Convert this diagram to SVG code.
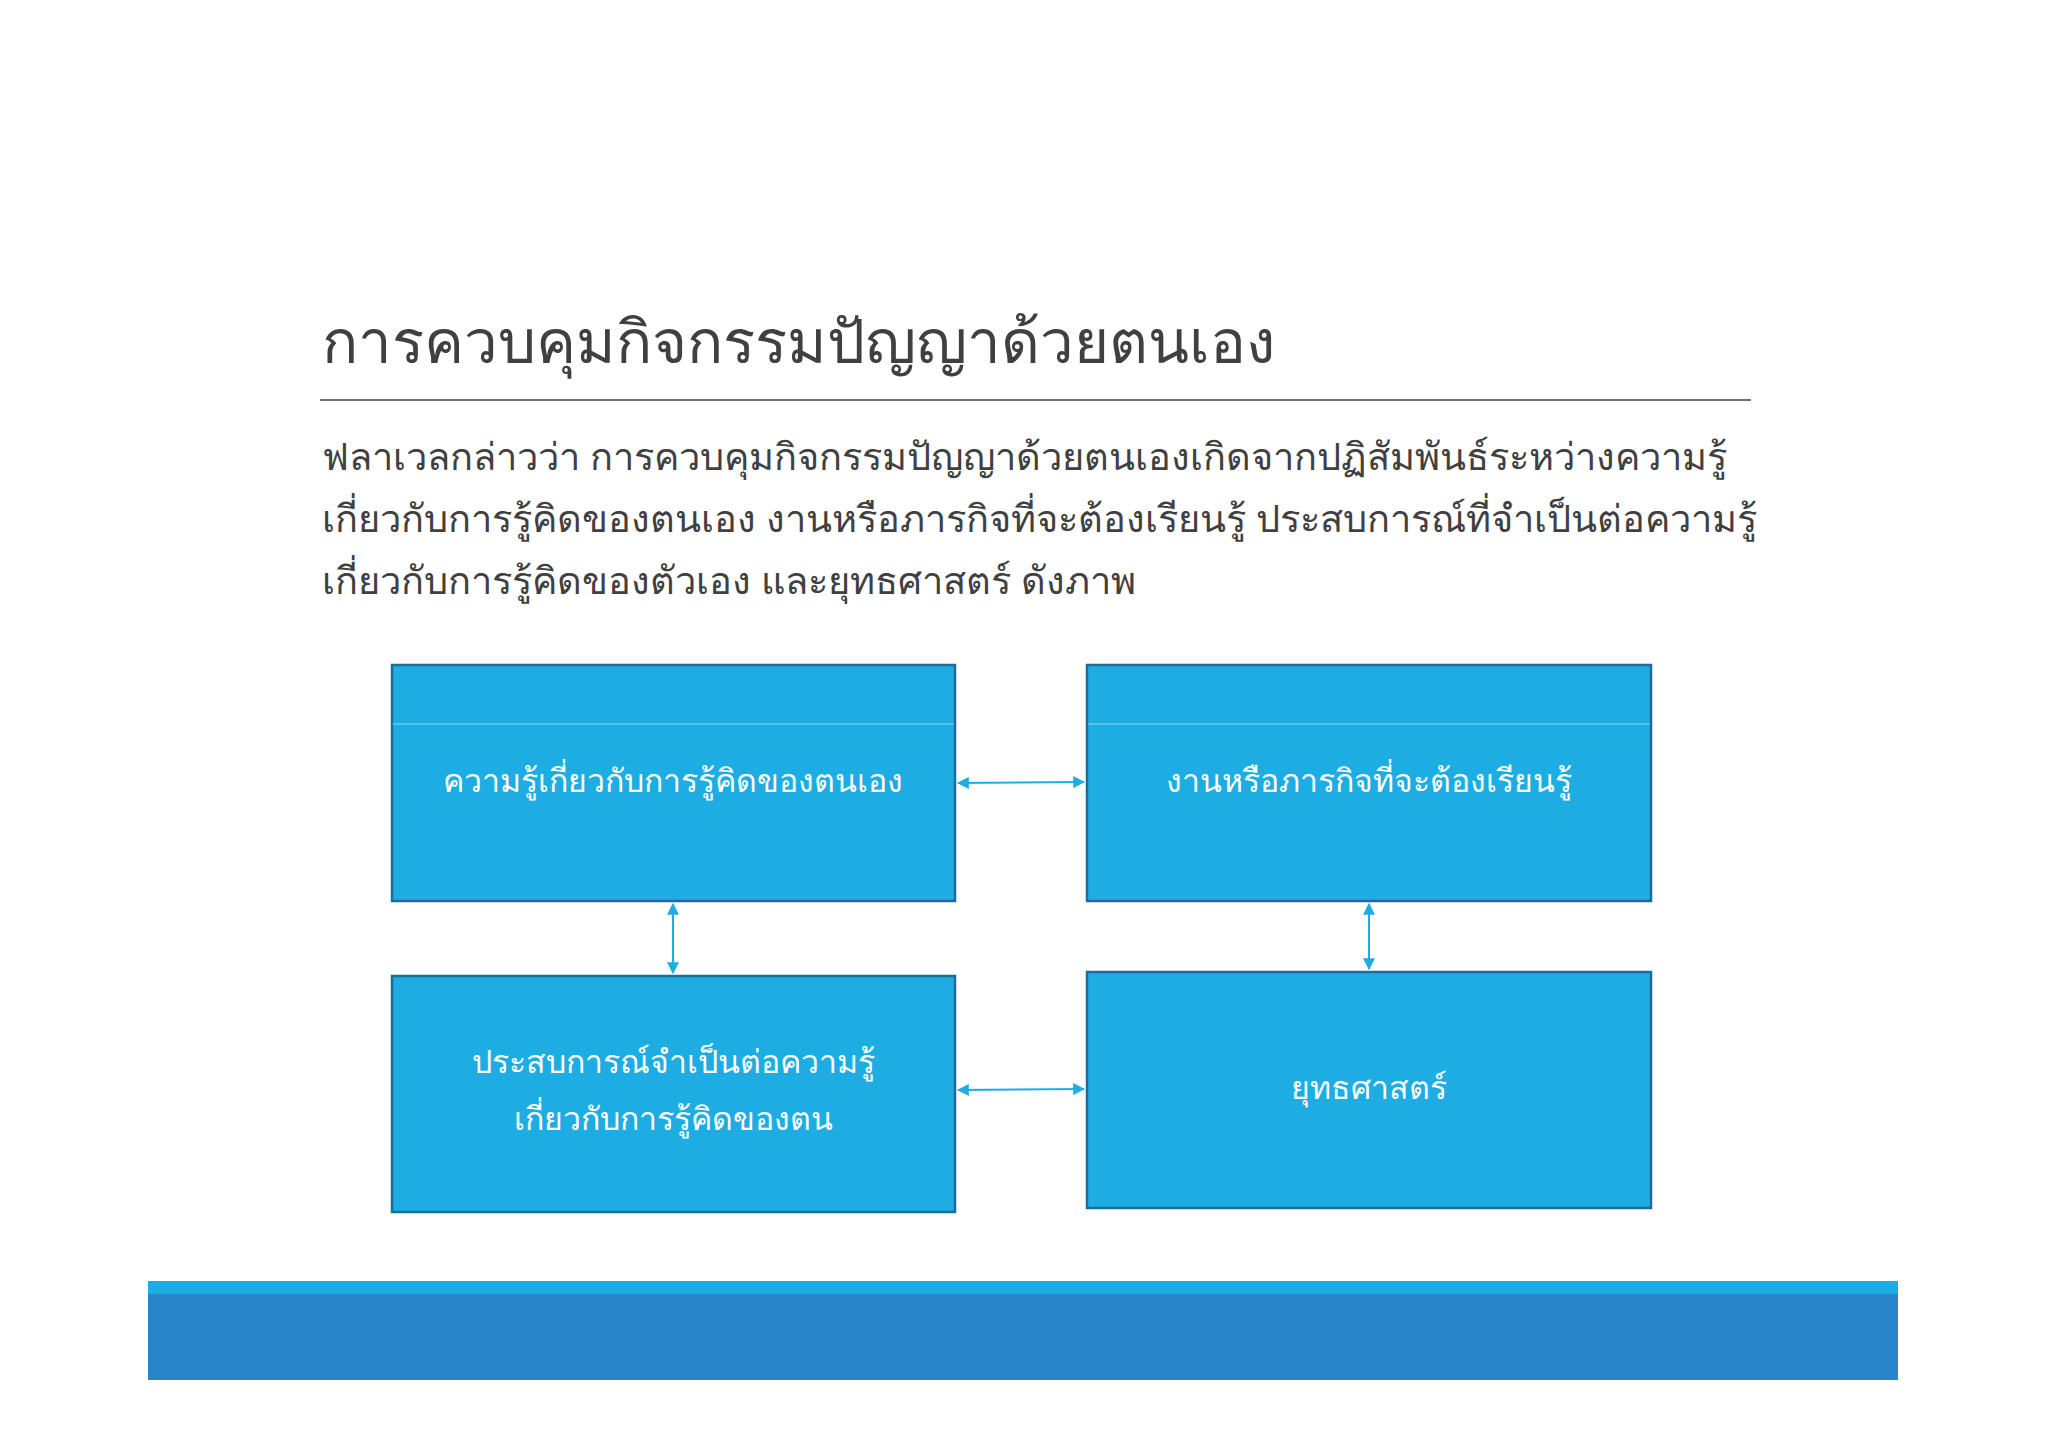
<svg xmlns="http://www.w3.org/2000/svg" width="2048" height="1448" viewBox="0 0 2048 1448">
<style>
.t{font-family:"Noto Sans","DejaVu Sans",sans-serif;fill:#404040}
.box{fill:#1EADE3;stroke:#1A6E9A;stroke-width:2.5}
.bt{font-family:"Noto Sans","DejaVu Sans",sans-serif;fill:#fff;font-size:32px;text-anchor:middle}
.c{stroke:#1EADE3;stroke-width:2;fill:none;marker-start:url(#a);marker-end:url(#a)}
</style>
<defs><marker id="a" viewBox="0 0 10 10" refX="9" refY="5" markerWidth="6" markerHeight="6" orient="auto-start-reverse"><path d="M0,0L10,5L0,10z" fill="#1EADE3"/></marker></defs>
<rect width="2048" height="1448" fill="#fff"/>
<text class="t" x="322" y="363" font-size="60" font-family="Liberation Serif,serif">การควบคุมกิจกรรมปัญญาด้วยตนเอง</text>
<line x1="320" y1="400" x2="1751" y2="400" stroke="#707070" stroke-width="2"/>
<g class="t" font-size="38">
<text x="322" y="470">ฟลาเวลกล่าวว่า การควบคุมกิจกรรมปัญญาด้วยตนเองเกิดจากปฏิสัมพันธ์ระหว่างความรู้</text>
<text x="322" y="532">เกี่ยวกับการรู้คิดของตนเอง งานหรือภารกิจที่จะต้องเรียนรู้ ประสบการณ์ที่จำเป็นต่อความรู้</text>
<text x="322" y="594">เกี่ยวกับการรู้คิดของตัวเอง และยุทธศาสตร์ ดังภาพ</text>
</g>
<g id="n1"><rect class="box" x="392" y="665" width="563" height="236"/><line x1="393" y1="724" x2="954" y2="724" stroke="#8fd4f0" stroke-width="1"/><text class="bt" x="673" y="792">ความรู้เกี่ยวกับการรู้คิดของตนเอง</text></g>
<g id="n2"><rect class="box" x="1087" y="665" width="564" height="236"/><line x1="1088" y1="724" x2="1650" y2="724" stroke="#8fd4f0" stroke-width="1"/><text class="bt" x="1369" y="792">งานหรือภารกิจที่จะต้องเรียนรู้</text></g>
<g id="n3"><rect class="box" x="392" y="976" width="563" height="236"/><text class="bt" x="673" y="1073">ประสบการณ์จำเป็นต่อความรู้</text><text class="bt" x="673" y="1130">เกี่ยวกับการรู้คิดของตน</text></g>
<g id="n4"><rect class="box" x="1087" y="972" width="564" height="236"/><text class="bt" x="1369" y="1099">ยุทธศาสตร์</text></g>
<g id="connectors">
<line class="c" x1="958" y1="783" x2="1084" y2="782"/>
<line class="c" x1="958" y1="1090" x2="1084" y2="1089"/>
<line class="c" x1="673" y1="904" x2="673" y2="973"/>
<line class="c" x1="1369" y1="904" x2="1369" y2="969"/>
</g>
<rect x="148" y="1281" width="1750" height="13" fill="#1EADE3"/>
<rect x="148" y="1294" width="1750" height="86" fill="#2A84C8"/>
</svg>
